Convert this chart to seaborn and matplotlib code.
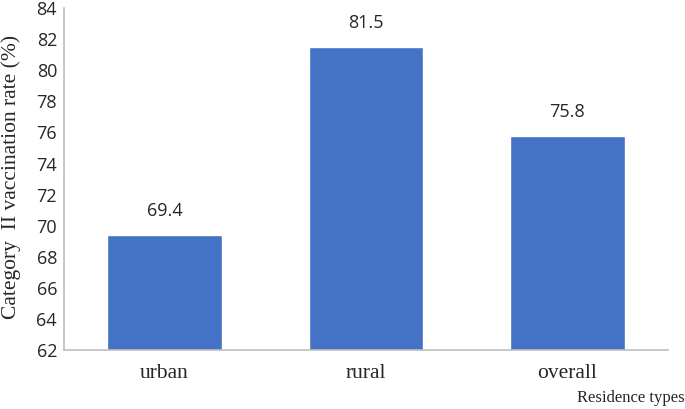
import matplotlib
matplotlib.use("Agg")
import matplotlib.pyplot as plt
import seaborn as sns
import pandas as pd

# data
residence = ["urban", "rural", "overall"]
rate = [69.4, 81.5, 75.8]
yticks = list(range(62, 85, 2))

df = pd.DataFrame({"Residence": residence, "Rate": rate})

sns.set_style("white")
plt.rcParams['font.family'] = ['Liberation Serif', 'DejaVu Serif']

fig = plt.figure(figsize=(6.85, 4.09), dpi=100)
ax = fig.add_axes([0.0934, 0.1443, 0.8816, 0.8357])

sns.barplot(data=df, x="Residence", y="Rate", color="#4472C4", saturation=1,
            width=0.57, ax=ax)

ax.set_ylim(62, 84)
ax.set_xlim(-0.5, 2.5)
ax.set_yticks(yticks)
ax.set_yticklabels([str(t) for t in yticks], family=['Open Sans', 'DejaVu Sans'], fontsize=13)
ax.tick_params(axis='x', labelsize=15.5, length=0, pad=10)
ax.tick_params(axis='y', length=0, pad=5)

for i, v in enumerate(rate):
    ax.annotate(f"{v}", (i, v), xytext=(0, 17), textcoords="offset points",
                ha="center", va="center", fontsize=13,
                family=['Open Sans', 'DejaVu Sans'])

ax.set_xlabel("")
ax.set_ylabel("Category  II vaccination rate (%)", fontsize=15.5)
ax.yaxis.set_label_coords(-0.071, 0.505)
fig.text(0.999, 0.028, "Residence types", ha="right", va="center", fontsize=12)

sns.despine(ax=ax)
for s in ["left", "bottom"]:
    ax.spines[s].set_color("#bfbfbf")
    ax.spines[s].set_linewidth(1.2)

plt.savefig("out.png", dpi=100)
